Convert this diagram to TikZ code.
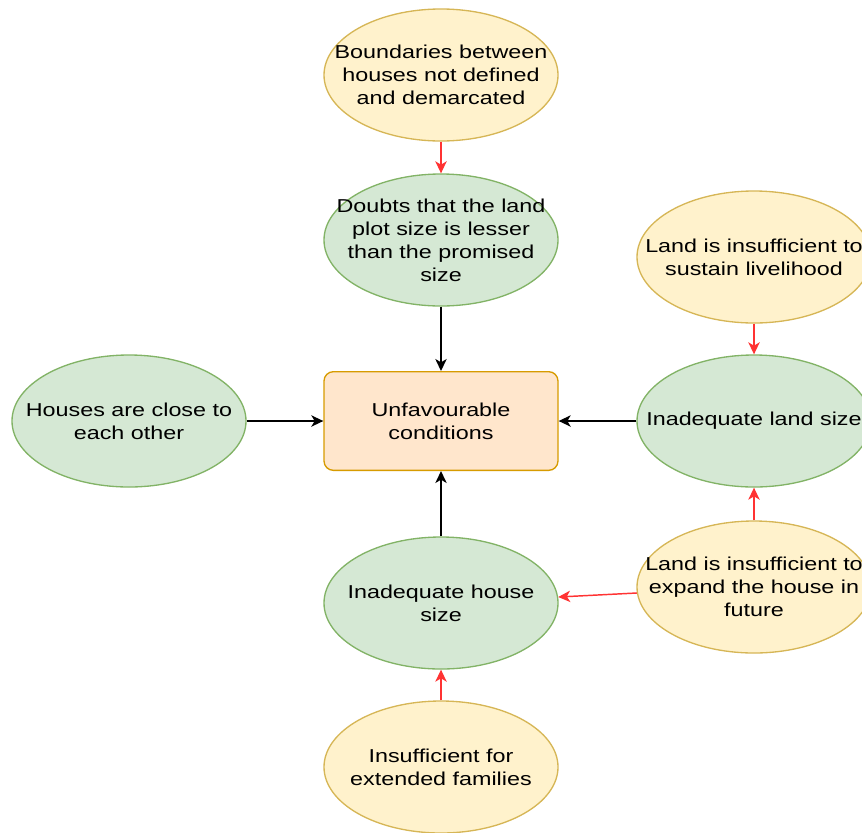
\documentclass[tikz,border=0pt]{standalone}
\usepackage{fontspec}
\setmainfont{Liberation Sans}[FakeStretch=1.25]
\usetikzlibrary{positioning, arrows.meta, shapes.geometric}
\definecolor{GreenFill}{HTML}{D5E8D4}
\definecolor{GreenLine}{HTML}{82B366}
\definecolor{YellowFill}{HTML}{FFF2CC}
\definecolor{YellowLine}{HTML}{D6B656}
\definecolor{OrangeFill}{HTML}{FFE6CC}
\definecolor{OrangeLine}{HTML}{D79B00}
\definecolor{RedArrow}{HTML}{FF3333}

\begin{document}
\begin{tikzpicture}[x=0.75pt, y=-0.75pt,
    every node/.style={font=\fontsize{14pt}{17.25pt}\selectfont, align=center, inner sep=0pt},
    greenell/.style={ellipse, draw=GreenLine, fill=GreenFill, line width=1pt, inner xsep=-22pt, inner ysep=-4pt, minimum width=175.5pt, minimum height=99pt},
    yellowell/.style={ellipse, draw=YellowLine, fill=YellowFill, line width=1pt, inner xsep=-22pt, inner ysep=-4pt, minimum width=175.5pt, minimum height=99pt},
    condbox/.style={rectangle, rounded corners=7pt, draw=OrangeLine, fill=OrangeFill, line width=1pt, minimum width=175.5pt, minimum height=74pt},
    blackarrow/.style={-{Stealth[length=9pt, width=8.5pt, inset=2.5pt]}, line width=1.1pt, black},
    redarrow/.style={-{Stealth[length=9pt, width=8.5pt, inset=2.5pt]}, line width=1.1pt, RedArrow}]
    \useasboundingbox (0,0) rectangle (862,832);

    % Centre
    \node[condbox] (cond) at (441,421) {Unfavourable\\conditions};

    % Top chain
    \node[yellowell] (bound) at (441,75) {Boundaries between\\houses not defined\\and demarcated};
    \node[greenell] (doubts) at (441,240) {Doubts that the land\\plot size is lesser\\than the promised\\size};
    \draw[redarrow] (bound) -- (doubts);
    \draw[blackarrow] (doubts) -- (cond);

    % Left
    \node[greenell] (close) at (129,421) {Houses are close to\\each other};
    \draw[blackarrow] (close) -- (cond);

    % Right chain
    \node[yellowell] (sustain) at (754,257) {Land is insufficient to\\sustain livelihood};
    \node[greenell] (landsize) at (754,421) {Inadequate land size};
    \node[yellowell] (expand) at (754,587) {Land is insufficient to\\expand the house in\\future};
    \draw[redarrow] (sustain) -- (landsize);
    \draw[redarrow] (expand) -- (landsize);
    \draw[blackarrow] (landsize) -- (cond);

    % Bottom chain
    \node[greenell] (housesize) at (441,603) {Inadequate house\\size};
    \node[yellowell] (extended) at (441,767) {Insufficient for\\extended families};
    \draw[redarrow] (extended) -- (housesize);
    \draw[redarrow] (expand) -- (housesize);
    \draw[blackarrow] (housesize) -- (cond);
\end{tikzpicture}
\end{document}
